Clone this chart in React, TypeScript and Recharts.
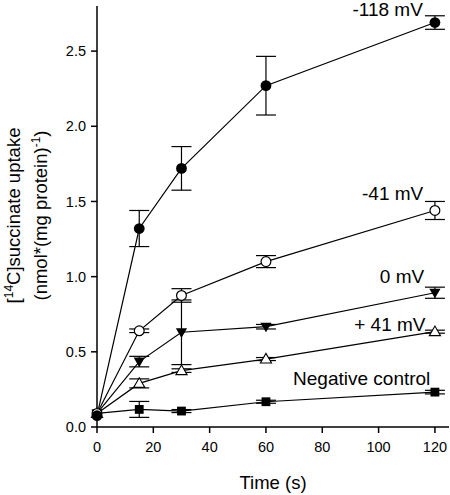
import {
  ErrorBar,
  Line,
  LineChart,
  ReferenceDot,
  XAxis,
  YAxis,
} from "recharts";

// sampling times (s)
const times = [0, 15, 30, 60, 120];

// mean uptake per membrane potential, nmol*(mg protein)^-1
const mean118 = [0.075, 1.32, 1.72, 2.27, 2.69];
const err118 = [0, 0.12, 0.145, 0.195, 0.045];
const mean41neg = [0.09, 0.64, 0.875, 1.1, 1.44];
const err41neg = [0, 0.012, 0.045, 0.04, 0.06];
const mean0 = [0.09, 0.435, 0.63, 0.667, 0.893];
const err0 = [0, 0.035, 0.215, 0.015, 0.037];
const mean41pos = [0.09, 0.29, 0.375, 0.452, 0.634];
const err41pos = [0, 0.03, 0.012, 0.01, 0.01];
const meanNeg = [0.09, 0.117, 0.106, 0.168, 0.232];
const errNeg = [0, 0.053, 0.01, 0.01, 0.012];

const xTicks = [0, 20, 40, 60, 80, 100, 120];
const yTicks = [0, 0.5, 1.0, 1.5, 2.0, 2.5];

// curve labels, placed in data coordinates
const curveLabels = [
  { text: "-118 mV", t: 103.2, v: 2.78 },
  { text: "-41 mV", t: 105, v: 1.556 },
  { text: "0 mV", t: 108.3, v: 1.004 },
  { text: "+ 41 mV", t: 104, v: 0.685 },
  { text: "Negative control", t: 94, v: 0.326 },
];

const rows = times.map((t, i) => ({
  t,
  a: mean118[i],
  ae: err118[i],
  b: mean41neg[i],
  be: err41neg[i],
  c: mean0[i],
  ce: err0[i],
  d: mean41pos[i],
  de: err41pos[i],
  e: meanNeg[i],
  ee: errNeg[i],
}));

const FONT = "'Liberation Sans', Arial, sans-serif";

type Shape = "circle" | "openCircle" | "triDown" | "triUp" | "square";

function marker(shape: Shape) {
  return (p: any) => {
    const { cx, cy, index } = p;
    const key = `${shape}-${index}`;
    if (cx == null || cy == null) return <g key={key} />;
    switch (shape) {
      case "circle":
        return <circle key={key} cx={cx} cy={cy} r={5.4} fill="#000" />;
      case "openCircle":
        return (
          <circle key={key} cx={cx} cy={cy} r={4.9} fill="#fff" stroke="#000" strokeWidth={1.2} />
        );
      case "square":
        return <rect key={key} x={cx - 4.4} y={cy - 4.4} width={8.8} height={8.8} fill="#000" />;
      case "triDown":
        return (
          <polygon
            key={key}
            points={`${cx - 5.6},${cy - 4} ${cx + 5.6},${cy - 4} ${cx},${cy + 5.6}`}
            fill="#000"
          />
        );
      default:
        return (
          <polygon
            key={key}
            points={`${cx - 5.6},${cy + 4} ${cx + 5.6},${cy + 4} ${cx},${cy - 5.6}`}
            fill="#fff"
            stroke="#000"
            strokeWidth={1.1}
          />
        );
    }
  };
}

function YTitle(props: any) {
  const vb = props.viewBox || { x: 0, y: 0, height: 421 };
  const cy = vb.y + vb.height / 2 - 1;
  const x1 = 20;
  const x2 = 47;
  return (
    <g fontFamily={FONT} fontSize={18.5} fill="#000">
      <text x={x1} y={cy} textAnchor="middle" transform={`rotate(-90, ${x1}, ${cy})`}>
        [<tspan fontSize={12} dy={-7}>14</tspan>
        <tspan dy={7}>C]succinate uptake</tspan>
      </text>
      <text x={x2} y={cy} textAnchor="middle" transform={`rotate(-90, ${x2}, ${cy})`}>
        (nmol*(mg protein)<tspan fontSize={12} dy={-7}>-1</tspan>
        <tspan dy={7}>)</tspan>
      </text>
    </g>
  );
}

const series: { key: string; err: string; shape: Shape }[] = [
  { key: "e", err: "ee", shape: "square" },
  { key: "d", err: "de", shape: "triUp" },
  { key: "c", err: "ce", shape: "triDown" },
  { key: "b", err: "be", shape: "openCircle" },
  { key: "a", err: "ae", shape: "circle" },
];

export default function App() {
  return (
    <div style={{ position: "absolute", left: 0, top: 0, background: "#fff" }}>
      <LineChart
        width={450}
        height={495}
        data={rows}
        margin={{ top: 6, right: 1, left: 0, bottom: 0 }}
      >
        <XAxis
          dataKey="t"
          type="number"
          domain={[0, 125]}
          ticks={xTicks}
          height={68}
          tickSize={6}
          tickMargin={9}
          axisLine={{ stroke: "#000", strokeWidth: 1.5 }}
          tickLine={{ stroke: "#000", strokeWidth: 1.5 }}
          tick={{ fill: "#000", fontSize: 14.5, fontFamily: FONT }}
          label={{
            value: "Time (s)",
            position: "insideBottom",
            offset: 6,
            fill: "#000",
            fontSize: 18.5,
            fontFamily: FONT,
          }}
        />
        <YAxis
          type="number"
          domain={[0, 2.8]}
          ticks={yTicks}
          width={97}
          tickSize={6}
          tickMargin={5}
          tickFormatter={(v: number) => v.toFixed(1)}
          axisLine={{ stroke: "#000", strokeWidth: 1.5 }}
          tickLine={{ stroke: "#000", strokeWidth: 1.5 }}
          tick={{ fill: "#000", fontSize: 14.5, fontFamily: FONT }}
          label={<YTitle />}
        />
        {series.map((s) => (
          <Line
            key={s.key}
            dataKey={s.key}
            type="linear"
            stroke="#000"
            strokeWidth={1.2}
            dot={marker(s.shape)}
            activeDot={false}
            isAnimationActive={false}
          >
            <ErrorBar
              dataKey={s.err}
              direction="y"
              width={10}
              stroke="#000"
              strokeWidth={1.2}
              isAnimationActive={false}
            />
          </Line>
        ))}
        {curveLabels.map((l) => (
          <ReferenceDot
            key={l.text}
            x={l.t}
            y={l.v}
            r={0}
            stroke="none"
            fill="none"
            label={{
              value: l.text,
              position: "center",
              fill: "#000",
              fontSize: 19,
              fontFamily: FONT,
            }}
          />
        ))}
      </LineChart>
    </div>
  );
}
